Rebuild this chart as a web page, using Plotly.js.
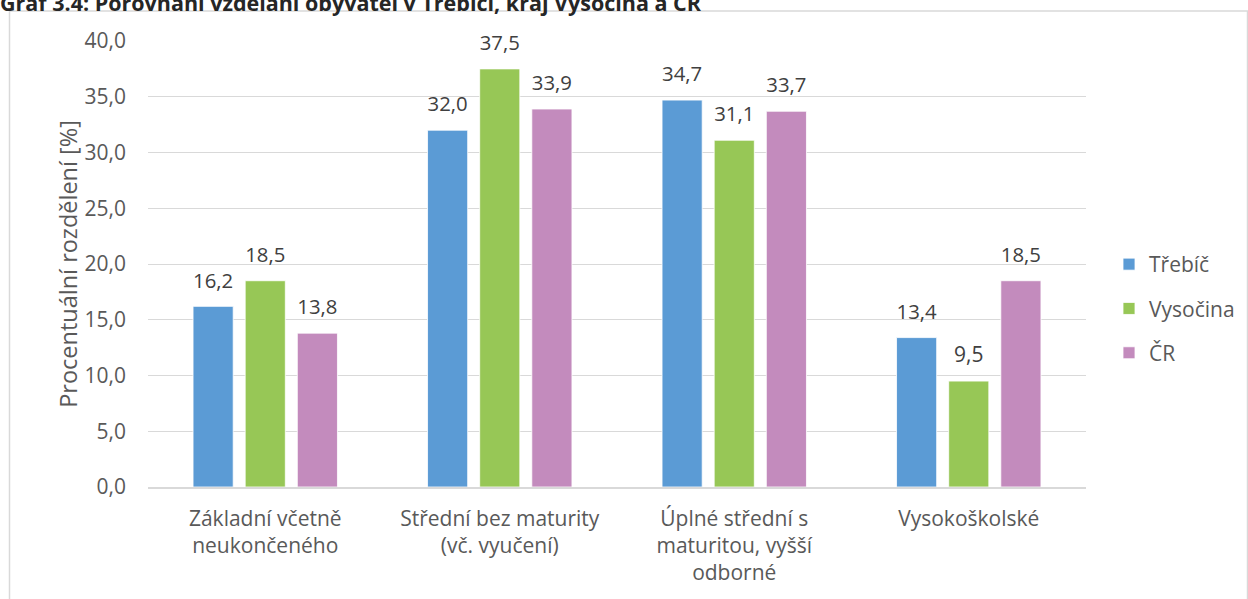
<!DOCTYPE html>
<html>
<head>
<meta charset="utf-8">
<script src="https://cdn.plot.ly/plotly-3.0.1.min.js"></script>
<style>
  html, body { margin: 0; padding: 0; background: #fff; }
  #chart { width: 1248px; height: 599px; }
</style>
</head>
<body>
<div id="chart"></div>
<script>
const categories = [
  "Základní včetně<br>neukončeného",
  "Střední bez maturity<br>(vč. vyučení)",
  "Úplné střední s<br>maturitou, vyšší<br>odborné",
  "Vysokoškolské"
];
const seriesNames = ["Třebíč", "Vysočina", "ČR"];
const trebic = [16.2, 32.0, 34.7, 13.4];
const vysocina = [18.5, 37.5, 31.1, 9.5];
const cr = [13.8, 33.9, 33.7, 18.5];
const colors = ["#5B9BD5", "#97C756", "#C38BBD"];
const yTicks = [0, 5, 10, 15, 20, 25, 30, 35, 40];

const FONT = "Open Sans, Noto Sans, sans-serif";
const FS = 21;
const LABEL_GAP = 0.9; // visual gap (axis units) between bar top and its value label
const values = [trebic, vysocina, cr];

const traces = [];
values.forEach((v, i) => {
  traces.push({
    type: "bar",
    name: seriesNames[i],
    x: categories,
    y: v,
    offsetgroup: "s" + i,
    legendgroup: "g" + i,
    marker: { color: colors[i], line: { color: "#ffffff", width: 0.8 } },
    hoverinfo: "x+y+name"
  });
});
values.forEach((v, i) => {
  // transparent spacer bar sitting on top of each bar, carrying the value label
  traces.push({
    type: "bar",
    name: seriesNames[i],
    x: categories,
    y: v.map(() => LABEL_GAP),
    base: v,
    offsetgroup: "s" + i,
    showlegend: false,
    marker: { color: "rgba(0,0,0,0)", line: { width: 0 } },
    text: v.map(val => val.toFixed(1).replace(".", ",")),
    textposition: "outside",
    cliponaxis: false,
    textfont: { family: FONT, size: FS, color: "#404040" },
    hoverinfo: "skip"
  });
});

// plot area: x 148..1086, y 41..487
const L = 148, R = 1248 - 1086, T = 41, B = 599 - 487;
const pw = 1248 - L - R, ph = 599 - T - B;
const px = p => (p - L) / pw;
const py = p => (599 - B - p) / ph;

const layout = {
  width: 1248,
  height: 599,
  margin: { l: L, r: R, t: T, b: B, pad: 0, autoexpand: false },
  paper_bgcolor: "#ffffff",
  plot_bgcolor: "#ffffff",
  separators: ", ",
  font: { family: FONT, size: FS, color: "#595959" },
  title: {
    text: "<b>Graf 3.4: Porovnání vzdělání obyvatel v Třebíči, kraj Vysočina a ČR</b>",
    font: { family: FONT, size: 21.5, color: "#262626" },
    xref: "container", yref: "container",
    x: 0, xanchor: "left",
    y: 1 - 3 / 599, yanchor: "middle"
  },
  barmode: "group",
  bargap: 0.333,
  bargroupgap: 0.23,
  xaxis: {
    type: "category",
    showgrid: false,
    showline: true,
    linecolor: "#d9d9d9",
    linewidth: 1.5,
    ticks: "",
    tickfont: { family: FONT, size: FS, color: "#595959" },
    ticklabelstandoff: 12,
    automargin: false,
    fixedrange: true
  },
  yaxis: {
    range: [0, 40],
    tickvals: yTicks,
    tickformat: ".1f",
    showgrid: true,
    gridcolor: "#d9d9d9",
    gridwidth: 1,
    zeroline: false,
    showline: false,
    ticks: "",
    ticklabelstandoff: 21,
    automargin: false,
    tickfont: { family: FONT, size: FS, color: "#595959" },
    title: {
      text: "Procentuální rozdělení [%]",
      font: { family: FONT, size: 23.5, color: "#595959" },
      standoff: 0
    },
    fixedrange: true
  },
  legend: {
    x: px(1109), xanchor: "left",
    y: py(244), yanchor: "top",
    traceorder: "grouped",
    tracegroupgap: 14,
    font: { family: FONT, size: FS, color: "#595959" },
    bgcolor: "rgba(0,0,0,0)",
    itemwidth: 30
  },
  shapes: [{
    type: "rect",
    xref: "paper", yref: "paper",
    x0: px(9.5), x1: px(1247.5), y0: py(620), y1: py(11),
    line: { color: "#d9d9d9", width: 1.5 },
    fillcolor: "rgba(0,0,0,0)",
    layer: "below"
  }],
  showlegend: true
};

Plotly.newPlot("chart", traces, layout, { displayModeBar: false, staticPlot: true });
</script>
</body>
</html>
